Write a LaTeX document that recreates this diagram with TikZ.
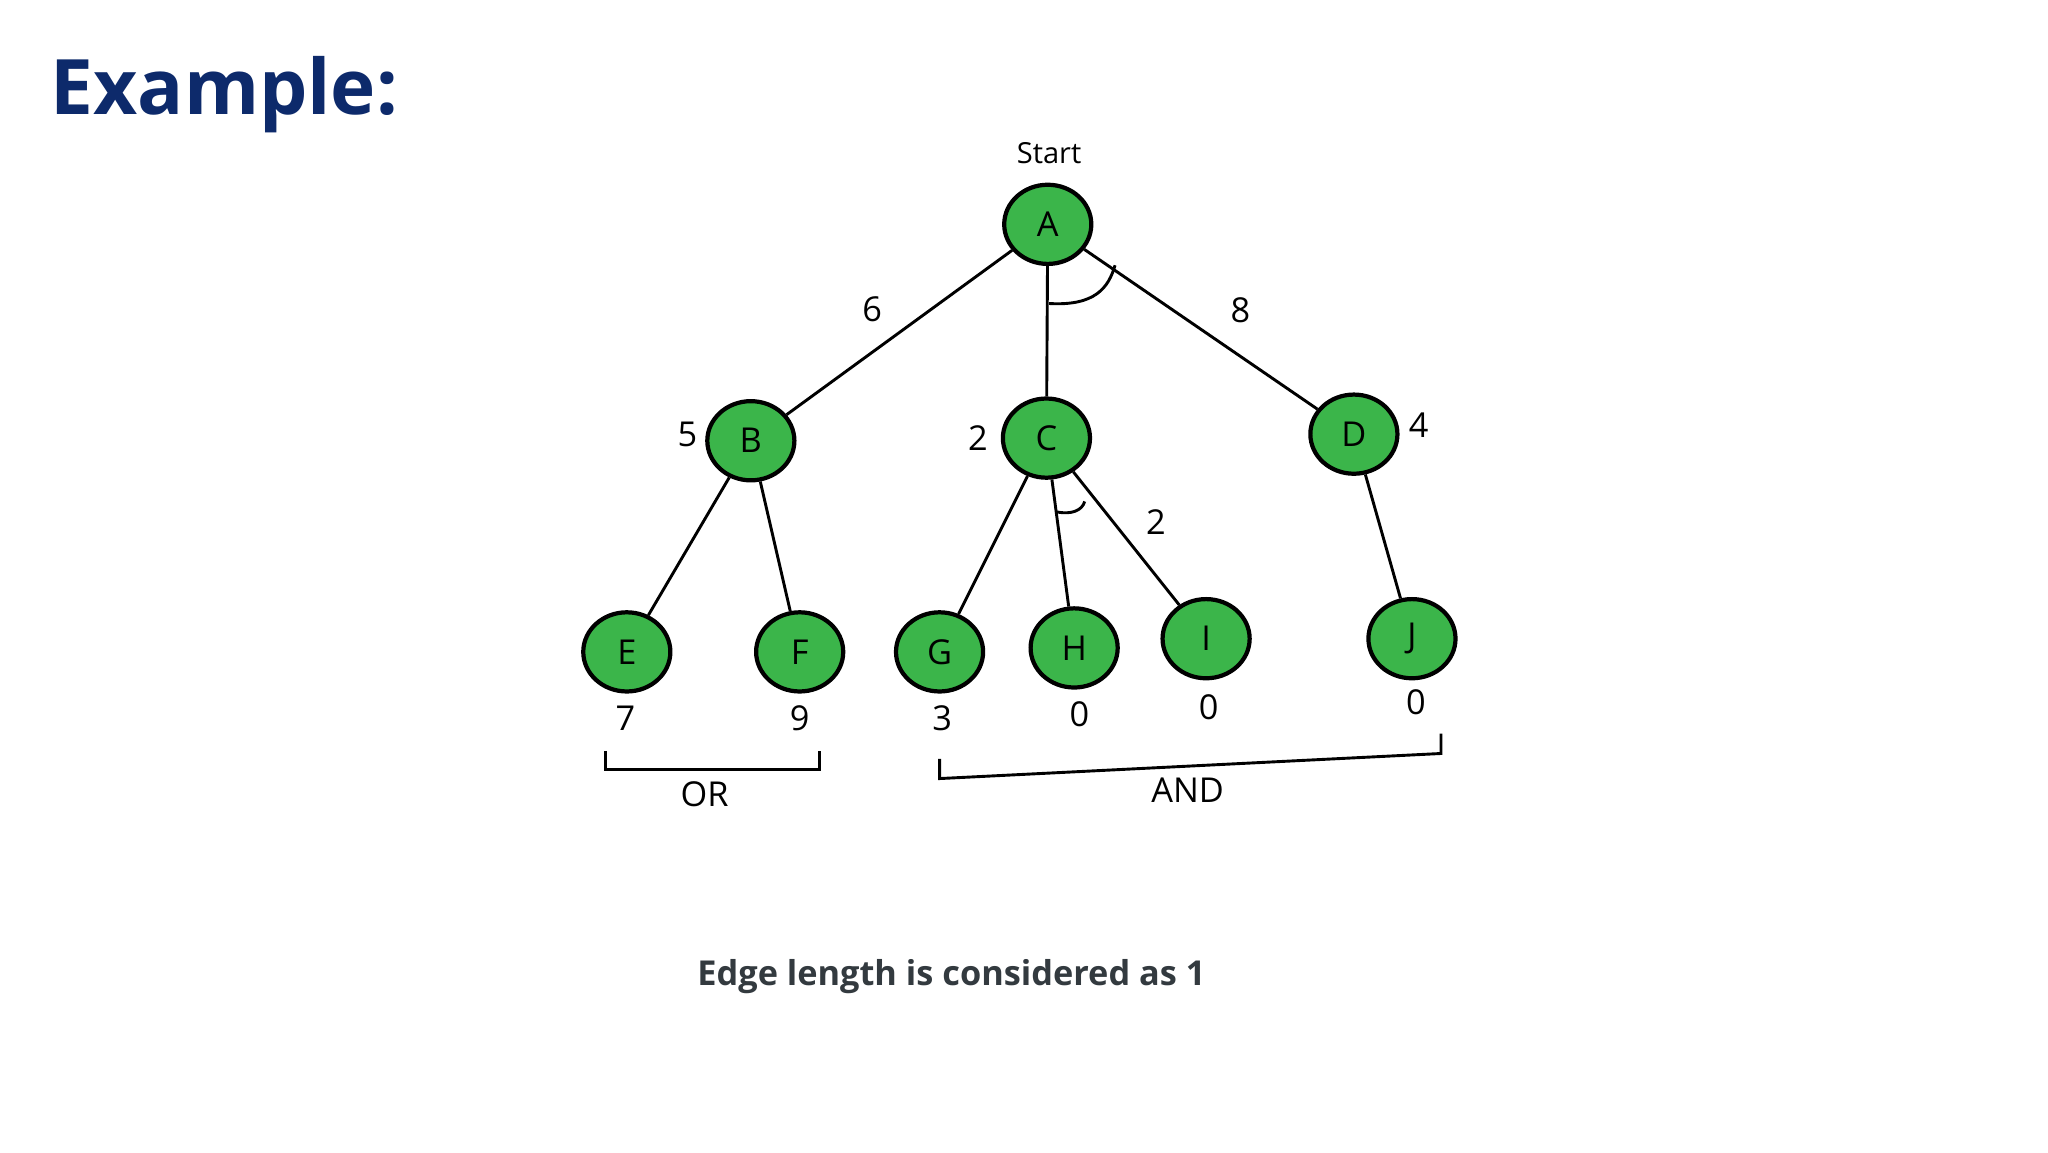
\documentclass[tikz,border=0pt]{standalone}
\usepackage{fontspec}
\setmainfont{Open Sans}
\usetikzlibrary{shapes.geometric}
\definecolor{ngreen}{HTML}{3BB54A}
\definecolor{navy}{HTML}{0D2A6B}
\definecolor{capgray}{HTML}{333A3F}
\begin{document}
\begin{tikzpicture}[x=0.5pt,y=-0.5pt,
  nd/.style={ellipse,draw=black,line width=1.6pt,fill=ngreen,minimum width=33pt,minimum height=30pt,inner sep=0pt,font=\fontsize{13}{15}\selectfont},
  lab/.style={font=\fontsize{13}{15}\selectfont,inner sep=0pt},
  ed/.style={line width=1.1pt}]
\useasboundingbox (0,0) rectangle (1552,873);
\node[font=\fontsize{29}{34}\selectfont\rmfamily\bfseries,text=navy,anchor=west,inner sep=0pt] (title) at (38,72) {Example:};
\node[font=\fontsize{11}{13}\selectfont,inner sep=0pt] (start) at (795,116) {Start};
\node[nd] (A) at (794,170) {A};
\node[nd] (B) at (569,334) {B};
\node[nd] (C) at (793,332) {C};
\node[nd] (D) at (1026,329) {D};
\node[nd] (E) at (475,494) {E};
\node[nd] (F) at (606,494) {F};
\node[nd] (G) at (712,494) {G};
\node[nd] (H) at (814,491) {H};
\node[nd] (I) at (914,484) {I};
\node[nd] (J) at (1070,484) {J};
\draw[ed] (A) -- (B); \draw[ed] (A) -- (C); \draw[ed] (A) -- (D);
\draw[ed] (B) -- (E); \draw[ed] (B) -- (F);
\draw[ed] (C) -- (G); \draw[ed] (C) -- (H); \draw[ed] (C) -- (I);
\draw[ed] (D) -- (J);
\coordinate (a1) at (795,230); \coordinate (a2) at (845,201);
\draw[ed] (a1) .. controls (830,232) and (840,218) .. (a2);
\coordinate (c1) at (801,388); \coordinate (c2) at (822,380);
\draw[ed] (c1) .. controls (812,390) and (820,387) .. (c2);
\node[lab] (l6) at (661,234) {6};
\node[lab] (l8) at (940,235) {8};
\node[lab] (l5) at (521,329) {5};
\node[lab] (l2) at (741,332) {2};
\node[lab] (l4) at (1075,322) {4};
\node[lab] (l2b) at (876,396) {2};
\node[lab] (h7) at (474,544) {7};
\node[lab] (h9) at (606,544) {9};
\node[lab] (h3) at (714,544) {3};
\node[lab] (h0a) at (818,541) {0};
\node[lab] (h0b) at (916,536) {0};
\node[lab] (h0c) at (1073,532) {0};
\coordinate (o1) at (459,569); \coordinate (o2) at (459,583);
\coordinate (o3) at (621,583); \coordinate (o4) at (621,569);
\draw[ed] (o1) -- (o2) -- (o3) -- (o4);
\coordinate (n1) at (712,575); \coordinate (n2) at (712,590);
\coordinate (n3) at (1092,571); \coordinate (n4) at (1092,556);
\draw[ed] (n1) -- (n2) -- (n3) -- (n4);
\node[lab] (or) at (534,602) {OR};
\node[lab] (and) at (900,599) {AND};
\node[font=\fontsize{13}{15}\selectfont\bfseries,text=capgray,inner sep=0pt] (cap) at (721,740) {Edge length is considered as 1};
\end{tikzpicture}
\end{document}
